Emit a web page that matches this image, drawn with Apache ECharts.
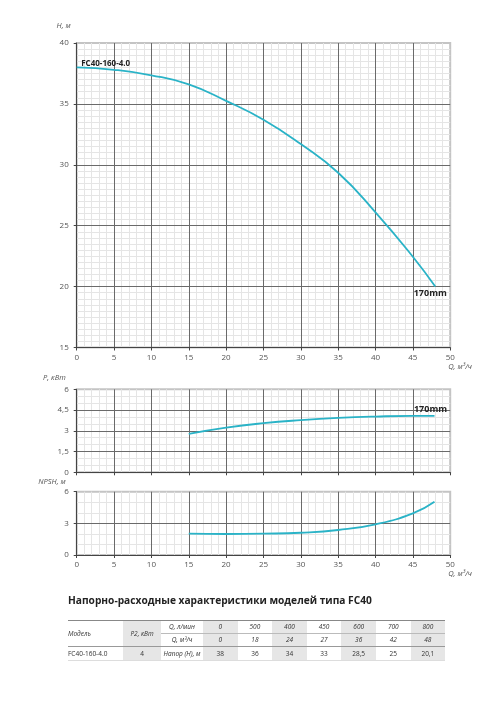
<!DOCTYPE html>
<html>
<head>
<meta charset="utf-8">
<script src="https://cdn.jsdelivr.net/npm/echarts@6/dist/echarts.min.js"></script>
<style>
  html, body { margin: 0; padding: 0; background: #fff; }
  #wrap { position: relative; width: 500px; height: 707px; }
  #chart { position: absolute; left: 0; top: 0; width: 500px; height: 707px; }
  #tbl {
    position: absolute; left: 68px; top: 620px;
    border-collapse: collapse; table-layout: fixed;
    font-family: "Open Sans", sans-serif; font-size: 6.5px; color: #333;
  }
  #tbl td { padding: 0; text-align: center; height: 12px; line-height: 12px; white-space: nowrap; }
  #tbl td.it { font-style: italic; }
  #tbl td.gr { background: #e6e6e6; }
  #tbl tr.r1 td { border-top: 1.5px solid #888; }
  #tbl tr.r1 td.q, #tbl tr.r1 td.v { border-bottom: 1px solid #bbb; }
  #tbl tr.r2 td { border-bottom: 1px solid #999; }
  #tbl tr.r3 td { border-bottom: 1px solid #ddd; height: 13px; }
  #tbl td.left { text-align: left; padding-left: 0; }
</style>
</head>
<body>
<div id="wrap">
  <div id="chart"></div>
  <table id="tbl"></table>
</div>
<script>
// напорная характеристика H(Q)
var qH = [0, 5, 10, 15, 20, 25, 30, 35, 40, 45, 48];
var headH = [38.0, 37.8, 37.35, 36.6, 35.25, 33.7, 31.7, 29.35, 26.1, 22.45, 20.0];
// мощность P(Q) и NPSH(Q)
var qP = [15, 20, 25, 30, 35, 40, 45, 47.9];
var powerP = [2.78, 3.23, 3.55, 3.77, 3.93, 4.03, 4.08, 4.08];
var npsh = [2.02, 1.99, 2.02, 2.11, 2.37, 2.91, 3.95, 5.05];

// таблица
var modelName = 'FC40-160-4.0';
var impeller = '170mm';
var power2 = '4';
var flowLpm = ['0', '500', '400', '450', '600', '700', '800'];
var flowM3 = ['0', '18', '24', '27', '36', '42', '48'];
var headTbl = ['38', '36', '34', '33', '28,5', '25', '20,1'];

var lineColor = '#2ab3c7';
var font = '"Open Sans", sans-serif';

function zip(xs, ys) {
  return xs.map(function (x, i) { return [x, ys[i]]; });
}

var gridL = 76.7, gridW = 373.5;

function xAx(idx, showLabel) {
  return {
    type: 'value', gridIndex: idx, min: 0, max: 50, interval: 5, z: 2,
    axisLine: { show: true, lineStyle: { color: '#444', width: 1 } },
    axisTick: { show: true, length: 3, lineStyle: { color: '#444' } },
    axisLabel: { show: showLabel, fontSize: 8, color: '#555', margin: 6, fontFamily: font },
    splitLine: { show: true, showMaxLine: false, lineStyle: { color: '#6a6a6a', width: 1 } },
    name: showLabel ? 'Q, м³/ч' : '',
    nameLocation: 'end', nameGap: -2,
    nameTextStyle: { fontSize: 7.5, fontStyle: 'italic', color: '#555', align: 'left', verticalAlign: 'top', padding: [15, 0, 0, 0], fontFamily: font }
  };
}

function yAx(idx, min, max, step, name, gap, padR) {
  return {
    type: 'value', gridIndex: idx, min: min, max: max, interval: step, z: 2,
    axisLine: { show: true, lineStyle: { color: '#444', width: 1 } },
    axisTick: { show: true, length: 3, lineStyle: { color: '#444' } },
    axisLabel: {
      fontSize: 8, color: '#555', margin: 8, fontFamily: font,
      formatter: function (v) { return String(v).replace('.', ','); }
    },
    splitLine: { show: true, showMaxLine: false, showMinLine: false, lineStyle: { color: '#6a6a6a', width: 1 } },
    name: name, nameLocation: 'end', nameGap: gap,
    nameTextStyle: { fontSize: 7.5, fontStyle: 'italic', color: '#555', align: 'right', padding: [0, padR, 0, 0], fontFamily: font }
  };
}

// отдельные оси только для мелкой сетки, чтобы она лежала под основной
function minorAx(idx, min, max, step, minor, isY) {
  return {
    type: 'value', gridIndex: idx, min: min, max: max, interval: step, z: 0,
    position: isY ? 'left' : 'bottom',
    axisLine: { show: false }, axisTick: { show: false }, axisLabel: { show: false },
    splitLine: { show: false },
    minorTick: { show: false, splitNumber: minor },
    minorSplitLine: { show: true, lineStyle: { color: '#e5e5e5', width: 1 } }
  };
}

var myChart = echarts.init(document.getElementById('chart'), null, { renderer: 'canvas' });

var option = {
  animation: false,
  title: {
    text: 'Напорно-расходные характеристики моделей типа FC40',
    left: 68, top: 596, padding: 0,
    textStyle: { fontSize: 10.2, fontWeight: 'bold', color: '#222', fontFamily: font }
  },
  grid: [
    { left: gridL, top: 43, width: gridW, height: 304.5, show: true, borderColor: '#c4c4c4', borderWidth: 2 },
    { left: gridL, top: 389.3, width: gridW, height: 83, show: true, borderColor: '#c4c4c4', borderWidth: 2 },
    { left: gridL, top: 491.7, width: gridW, height: 63.3, show: true, borderColor: '#c4c4c4', borderWidth: 2 }
  ],
  xAxis: [
    xAx(0, true), xAx(1, false), xAx(2, true),
    minorAx(0, 0, 50, 5, 5, false), minorAx(1, 0, 50, 5, 5, false), minorAx(2, 0, 50, 5, 5, false)
  ],
  yAxis: [
    yAx(0, 15, 40, 5, 'H, м', 13, 6),
    yAx(1, 0, 6, 1.5, 'P, кВт', 7.5, 11),
    yAx(2, 0, 6, 3, 'NPSH, м', 5.5, 11),
    minorAx(0, 15, 40, 5, 10, true), minorAx(1, 0, 6, 1.5, 3, true), minorAx(2, 0, 6, 3, 3, true)
  ],
  series: [
    {
      type: 'line', xAxisIndex: 0, yAxisIndex: 0, smooth: true, showSymbol: false, z: 5,
      data: zip(qH, headH),
      lineStyle: { color: lineColor, width: 1.8 },
      markPoint: {
        symbol: 'circle', symbolSize: 0, silent: true,
        label: { show: true, position: 'inside', fontWeight: 'bold', color: '#222', fontFamily: font },
        data: [
          { coord: [qH[0], headH[0]], label: { formatter: modelName, fontSize: 8, offset: [29, -4] } },
          { coord: [qH[qH.length - 1], headH[headH.length - 1]], label: { formatter: impeller, fontSize: 9, offset: [-5, 7] } }
        ]
      }
    },
    {
      type: 'line', xAxisIndex: 1, yAxisIndex: 1, smooth: true, showSymbol: false, z: 5,
      data: zip(qP, powerP),
      lineStyle: { color: lineColor, width: 1.8 },
      markPoint: {
        symbol: 'circle', symbolSize: 0, silent: true,
        label: { show: true, position: 'inside', fontWeight: 'bold', color: '#222', fontFamily: font },
        data: [
          { coord: [qP[qP.length - 1], powerP[powerP.length - 1]], label: { formatter: impeller, fontSize: 9, offset: [-4, -6] } }
        ]
      }
    },
    {
      type: 'line', xAxisIndex: 2, yAxisIndex: 2, smooth: true, showSymbol: false, z: 5,
      data: zip(qP, npsh),
      lineStyle: { color: lineColor, width: 1.8 }
    }
  ]
};
myChart.setOption(option, true);

// таблица характеристик
function buildTable() {
  var t = document.getElementById('tbl');
  var colW = [55, 38, 42];
  var cg = '<colgroup>';
  colW.forEach(function (w) { cg += '<col style="width:' + w + 'px">'; });
  flowLpm.forEach(function () { cg += '<col style="width:34.6px">'; });
  cg += '</colgroup>';
  var h = cg;
  h += '<tr class="r1"><td class="it left" rowspan="2" style="border-bottom:1px solid #999">Модель</td>' +
       '<td class="it gr" rowspan="2" style="border-bottom:1px solid #999">P2, кВт</td>' +
       '<td class="it q">Q, л/мин</td>';
  flowLpm.forEach(function (v, i) { h += '<td class="it v' + (i % 2 === 0 ? ' gr' : '') + '">' + v + '</td>'; });
  h += '</tr><tr class="r2"><td class="it">Q, м³/ч</td>';
  flowM3.forEach(function (v, i) { h += '<td class="it' + (i % 2 === 0 ? ' gr' : '') + '">' + v + '</td>'; });
  h += '</tr><tr class="r3"><td class="left">' + modelName + '</td><td class="gr">' + power2 + '</td><td class="it">Напор (H), м</td>';
  headTbl.forEach(function (v, i) { h += '<td' + (i % 2 === 0 ? ' class="gr"' : '') + '>' + v + '</td>'; });
  h += '</tr>';
  t.innerHTML = h;
}
buildTable();
</script>
</body>
</html>
